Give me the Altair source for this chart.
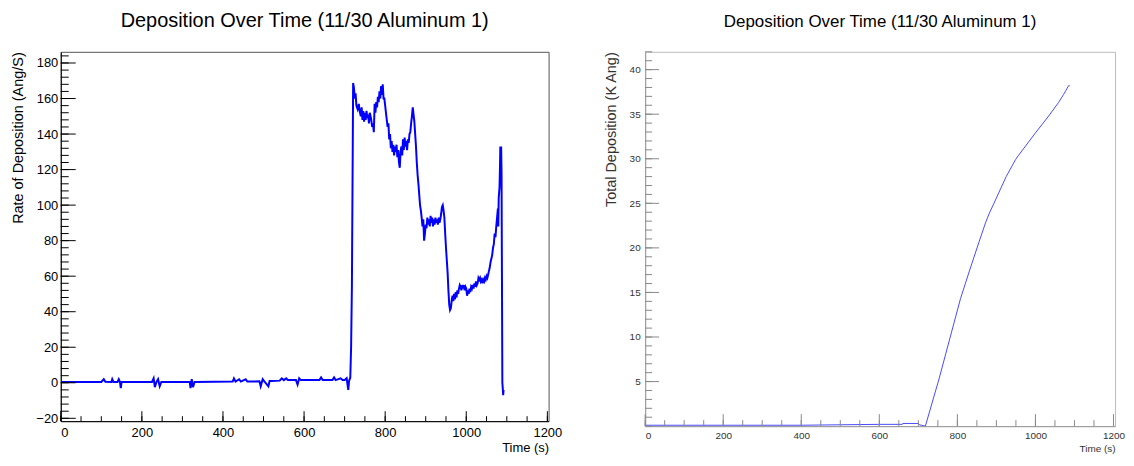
import altair as alt
import pandas as pd

FONT = "Liberation Sans"
TITLE = "Deposition Over Time (11/30 Aluminum 1)"

# ---- Rate of deposition (Ang/S) vs time (s)
t_rate = [0, 30, 60, 100, 106, 110, 125, 127, 130, 140, 143, 146, 148, 150, 180,
          225, 229, 232, 236, 240, 244, 248, 280, 318, 320, 323, 326, 330, 380,
          424, 427, 431, 440, 444, 456, 460, 490, 493, 498, 502, 512, 515, 520,
          540, 545, 550, 556, 560, 580, 584, 588, 592, 620, 638, 642, 646, 670,
          674, 678, 690, 695, 700, 705, 709, 711, 714, 716, 718, 720, 721,
          723, 725, 727, 729, 732, 735, 737, 740, 742, 744, 746, 748, 750, 752,
          754, 756, 758, 760, 762, 765, 768, 770, 772, 774, 776, 778, 780, 782,
          784, 786, 788, 790, 792, 794, 796, 798, 800, 803, 806, 808, 810, 812,
          814, 816, 818, 820, 822, 824, 826, 828, 830, 832, 834, 836, 838, 840,
          842, 844, 846, 848, 850, 852, 854, 856, 858, 860, 862, 864, 866, 868,
          870, 872, 874, 876, 878, 880, 882, 884, 886, 888, 890, 892, 894, 896,
          898, 900, 902, 904, 906, 908, 910, 912, 914, 916, 918, 920, 922, 924,
          926, 928, 930, 932, 934, 936, 938, 940, 942, 944, 946, 948, 950, 952,
          954, 956, 958, 960, 962, 964, 966, 968, 970, 972, 974, 976, 978, 980,
          982, 984, 986, 988, 990, 992, 994, 996, 998, 1000, 1002, 1004, 1006,
          1008, 1010, 1012, 1014, 1016, 1018, 1020, 1022, 1024, 1026, 1028, 1030,
          1032, 1034, 1036, 1038, 1040, 1042, 1044, 1046, 1048, 1050, 1052, 1054,
          1056, 1058, 1060, 1062, 1064, 1066, 1068, 1070, 1072, 1074, 1076, 1078,
          1079, 1080, 1082, 1083, 1084, 1085, 1086, 1087, 1088, 1089, 1090, 1091,
          1092]
rate = [0.5, 0.4, 0.5, 0.5, 2, 0.5, 0.4, 2, 0.5, 0.5, 2, 0.4, -3, 0.5, 0.5,
        0.5, 2.5, -2.5, 0.5, 2, -2, 0.5, 0.5, 0.5, -3, 2, -2.5, 0.5, 0.6,
        0.7, 2.5, 0.7, 2, 0.7, 2, 0.7, 0.8, -2, 2, 0.8, -2, 1, 1,
        1.2, 2.5, 1.5, 2.5, 1.5, 1.5, -1, 2.5, 1.5, 1.5, 1.5, 3, 1.5, 1.5,
        3, 1.5, 2.5, 1.5, 1.5, 2.5, -4, 1, 3, 20, 55, 130, 168.7,
        166, 160, 163, 156, 154, 157, 153, 150, 155, 148, 153, 147, 152, 148,
        153, 149, 151, 146, 152, 149, 144, 146, 141, 157, 152, 158, 155, 161,
        158, 164, 160, 167, 162, 168, 160, 160, 156, 150, 144, 146, 137, 140,
        132, 136, 130, 134, 128, 133, 130, 134, 127, 131, 124, 121, 130, 133,
        128, 137, 131, 138, 133, 136, 131, 137, 135, 140, 141, 146, 150, 155,
        151, 147, 140, 133, 124, 117, 112, 106, 100, 97, 93, 88, 92, 80,
        84, 89, 87, 93, 89, 92, 88, 94, 90, 93, 88, 92, 89, 93,
        90, 92, 89, 93, 90, 92, 95, 99, 100, 97, 93, 84, 76, 69,
        62, 52, 44, 41, 42, 46, 49, 46, 50, 47, 51, 48, 52, 50,
        53, 55, 54, 52, 55, 53, 55, 52, 54, 53, 49, 52, 50,
        53, 51, 54, 53, 55, 53, 56, 54, 57, 55, 56, 59,
        58, 59, 57, 58, 56, 58, 57, 59, 58, 60, 59, 61,
        63, 65, 68, 70, 72, 76, 78, 84, 82, 88, 93, 98,
        88, 104, 110, 120, 133, 115, 133, 118, 60, 0, -3, -7,
        -4]

# ---- Total deposition (K Ang) vs time (s)
t_total = [0, 100, 200, 300, 400, 500, 600, 659, 660, 700, 703, 718, 753, 808,
           830, 855, 872, 881, 900, 925, 949, 957, 1000, 1034, 1059, 1072, 1085,
           1088]
total = [0.1, 0.1, 0.1, 0.1, 0.1, 0.15, 0.2, 0.2, 0.3, 0.3, 0.15, 0.0, 5.3, 14.3,
         17.3, 20.6, 22.8, 23.8, 25.6, 28.0, 29.9, 30.4, 32.9, 34.8, 36.3, 37.2, 38.2,
         38.2]

# ---- tick positions
time_major = [0, 200, 400, 600, 800, 1000, 1200]
time_minor = list(range(0, 1201, 50))
rate_major = [-20, 0, 20, 40, 60, 80, 100, 120, 140, 160, 180]
rate_minor = list(range(-20, 187, 4))
total_major = [5, 10, 15, 20, 25, 30, 35, 40]
total_minor = list(range(0, 43, 1))

df_rate = pd.DataFrame({"t": t_rate, "v": rate})
df_total = pd.DataFrame({"t": t_total, "v": total})


def panel(df, W, H, xdom, ydom, ymaj, ymin, ytitle, line_color, line_w,
          axis_color, tick_color, label_color, lab_size, title_size, title_off,
          ytitle_x, xtitle_y, ylab_pad, xlab_pad, ymaj_len, ymin_len, xmaj_len,
          xmin_len, frame_color):
    xs = alt.Scale(domain=xdom, nice=False, zero=False)
    ys = alt.Scale(domain=ydom, nice=False, zero=False)
    xaxis = alt.Axis(
        values=time_major, format="d", ticks=False, grid=False,
        labelFont=FONT, labelFontSize=lab_size, labelColor=label_color,
        labelPadding=xlab_pad, domainColor=axis_color, domainWidth=1,
        title="Time (s)", titleFont=FONT, titleFontSize=lab_size,
        titleFontWeight="normal", titleColor=label_color,
        titleX=W, titleY=xtitle_y, titleAlign="right", titleBaseline="middle")
    yaxis = alt.Axis(
        values=ymaj, ticks=False, grid=False,
        labelFont=FONT, labelFontSize=lab_size, labelColor=label_color,
        labelPadding=ylab_pad, domainColor=axis_color, domainWidth=1,
        title=ytitle, titleFont=FONT, titleFontSize=14.5,
        titleFontWeight="normal", titleColor=label_color,
        titleX=ytitle_x, titleY=0, titleAngle=-90, titleAlign="right",
        titleBaseline="middle")
    line = alt.Chart(df).mark_line(color=line_color, strokeWidth=line_w, clip=True).encode(
        x=alt.X("t:Q", scale=xs, axis=xaxis),
        y=alt.Y("v:Q", scale=ys, axis=yaxis),
    )
    ytk_major = alt.Chart(pd.DataFrame({"v": ymaj})).mark_rule(
        color=tick_color, strokeWidth=1).encode(
        y=alt.Y("v:Q", scale=ys, axis=yaxis), x=alt.value(0), x2=alt.value(ymaj_len))
    ytk_minor = alt.Chart(pd.DataFrame({"v": ymin})).mark_rule(
        color=tick_color, strokeWidth=1).encode(
        y=alt.Y("v:Q", scale=ys, axis=yaxis), x=alt.value(0), x2=alt.value(ymin_len))
    xtk_major = alt.Chart(pd.DataFrame({"t": time_major})).mark_rule(
        color=tick_color, strokeWidth=1).encode(
        x=alt.X("t:Q", scale=xs, axis=xaxis), y=alt.value(H), y2=alt.value(H - xmaj_len))
    xtk_minor = alt.Chart(pd.DataFrame({"t": time_minor})).mark_rule(
        color=tick_color, strokeWidth=1).encode(
        x=alt.X("t:Q", scale=xs, axis=xaxis), y=alt.value(H), y2=alt.value(H - xmin_len))
    return alt.layer(line, ytk_minor, ytk_major, xtk_minor, xtk_major).properties(
        width=W, height=H,
        view=alt.ViewBackground(stroke=frame_color, strokeWidth=1),
        title=alt.TitleParams(TITLE, font=FONT, fontSize=title_size,
                              fontWeight="normal", color="black", anchor="middle",
                              offset=title_off),
    )


left = panel(df_rate, 490, 371, [0, 1203], [-21.6, 186.3], rate_major, rate_minor,
             "Rate of Deposition (Ang/S)", "#0000ff", 2,
             "black", "black", "black", 13, 20, 21,
             -42.5, 26, 3, 5, 15, 8, 10, 5, "#555555")
right = panel(df_total, 472, 376, [0, 1204], [0, 42], total_major, total_minor,
              "Total Deposition (K Ang)", "#4a4aff", 1,
              "#999999", "#888888", "#333333", 10, 17, 20.5,
              -34, 22, 5, 4, 14, 7, 12, 6, "#bbbbbb")

chart = alt.hconcat(left, right, spacing=40).properties(
    padding={"left": 1, "top": 1, "right": 0, "bottom": 0}
).configure(background="white")

chart.save("out.html", embed_options={"renderer": "svg", "actions": False})
